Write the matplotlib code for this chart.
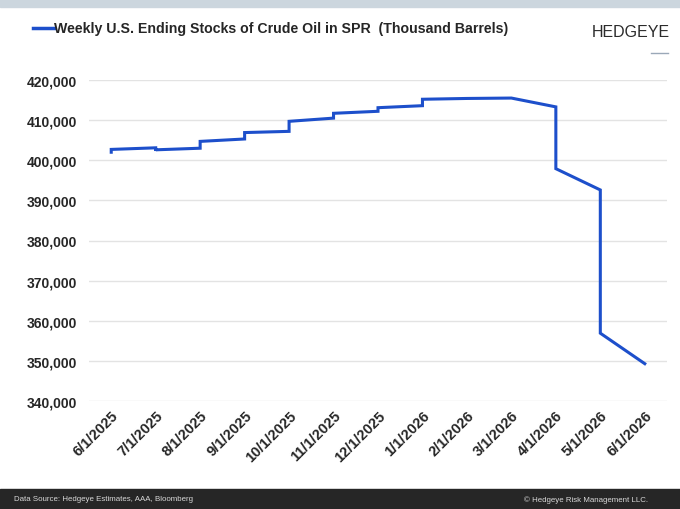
import matplotlib
matplotlib.use("Agg")
import matplotlib.pyplot as plt
from matplotlib.ticker import FuncFormatter, MultipleLocator
from matplotlib.patches import Rectangle
from matplotlib.lines import Line2D

# ---- data (thousand barrels) ----
tick_labels = ["6/1/2025", "7/1/2025", "8/1/2025", "9/1/2025", "10/1/2025",
               "11/1/2025", "12/1/2025", "1/1/2026", "2/1/2026", "3/1/2026",
               "4/1/2026", "5/1/2026", "6/1/2026"]
# position along the monthly axis (0 = 6/1/2025)
month_pos = [0, 0, 1, 1, 1, 2, 2, 3, 3, 4, 4, 5, 5, 6, 6, 7, 7, 8, 9, 10, 10, 11, 11, 12]
stocks = [402000, 402700, 403100, 402300, 402600, 403000, 404700, 405300, 406900,
          407200, 409700, 410500, 411700, 412200, 413100, 413600, 415200, 415400,
          415500, 413300, 397900, 392600, 356900, 349300]

series_label = "Weekly U.S. Ending Stocks of Crude Oil in SPR  (Thousand Barrels)"
source_text = "Data Source: Hedgeye Estimates, AAA, Bloomberg"
copyright_text = "\u00a9 Hedgeye Risk Management LLC."

plt.rcParams['font.family'] = ['Liberation Sans', 'DejaVu Sans']
line_color = "#1d4fcb"

fig = plt.figure(figsize=(6.8, 5.1), dpi=100)
fig.patch.set_facecolor("white")

# top band and bottom footer band
fig.add_artist(Rectangle((0, 1 - 8 / 510), 1, 8 / 510, transform=fig.transFigure,
                         color="#ccd6de", zorder=0))
fig.add_artist(Rectangle((0, 0), 1, 20 / 510, transform=fig.transFigure,
                         color="#262626", zorder=0))
fig.text(14 / 680, 10 / 510, source_text, color="#d8d8d8", fontsize=5.7,
         va="center", ha="left")
fig.text(648 / 680, 10 / 510, copyright_text, color="#d8d8d8", fontsize=5.7,
         va="center", ha="right")

ax = fig.add_axes([89 / 680, 1 - 402 / 510, (667 - 89) / 680, (402 - 81) / 510])
ax.plot(month_pos, stocks, color=line_color, linewidth=2.2, solid_joinstyle="miter")

ax.set_xlim(-0.5, len(tick_labels) - 0.5)
ax.set_ylim(340000, 420000)
ax.yaxis.set_major_locator(MultipleLocator(10000))
ax.yaxis.set_major_formatter(FuncFormatter(lambda v, p: f"{v:,.0f}"))
ax.set_xticks(range(len(tick_labels)))
ax.set_xticklabels(tick_labels, rotation=45, ha="right", rotation_mode="anchor")
for lbl in ax.get_xticklabels():
    lbl.set_fontweight("bold")
    lbl.set_color("#262626")
    lbl.set_fontsize(10.5)
for lbl in ax.get_yticklabels():
    lbl.set_fontweight("bold")
    lbl.set_color("#262626")
    lbl.set_fontsize(10)
ax.tick_params(axis="both", length=0)
ax.tick_params(axis="y", pad=8.5)
ax.tick_params(axis="x", pad=5)
ax.grid(axis="y", color="#e3e3e3", linewidth=1)
ax.set_axisbelow(True)
for s in ax.spines.values():
    s.set_visible(False)

# legend-like title
fig.add_artist(Line2D([33 / 680, 54 / 680], [1 - 29 / 510, 1 - 29 / 510],
                      transform=fig.transFigure, color=line_color, linewidth=2.5))
fig.text(54 / 680, 1 - 29 / 510, series_label, fontsize=10.2, fontweight="bold",
         color="#262626", va="center", ha="left")

# brand mark
fig.text(670 / 680, 1 - 32.5 / 510, "HEDGEYE", fontsize=11.5, color="#2b2b2b",
         va="center", ha="right")
fig.add_artist(Line2D([651 / 680, 668 / 680], [1 - 54 / 510, 1 - 54 / 510],
                      transform=fig.transFigure, color="#9aa8b8", linewidth=1))

fig.savefig("out.png", dpi=100)
